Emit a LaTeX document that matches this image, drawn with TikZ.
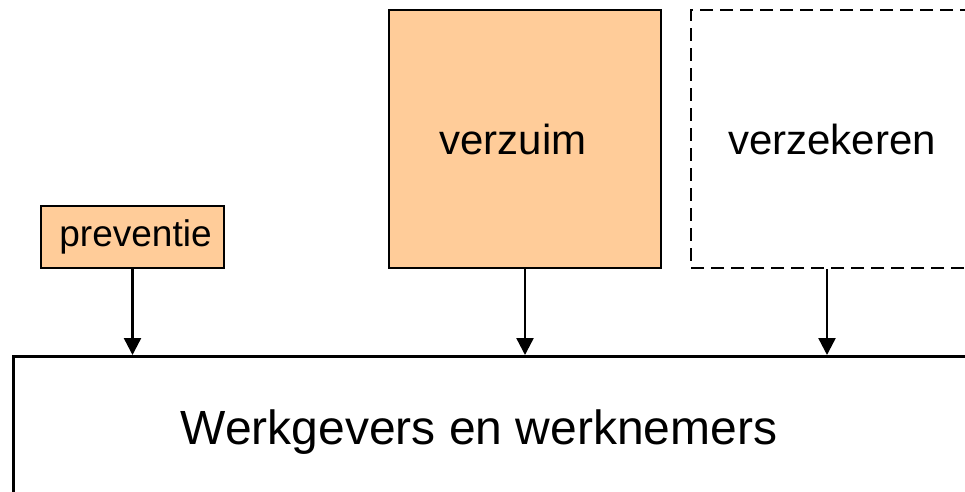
\documentclass[tikz,border=0pt]{standalone}
\usepackage{fontspec}
\setmainfont{Liberation Sans}
\usetikzlibrary{arrows.meta}
\definecolor{peach}{RGB}{255,204,153}
\tikzset{
  peachbox/.style={draw=black, fill=peach, line width=2.2pt, inner sep=0pt},
  dashbox/.style={draw=black, line width=2pt, dash pattern=on 13pt off 7pt, inner sep=0pt},
  plainbox/.style={draw=black, line width=2.6pt, inner sep=0pt},
  arr/.style={line width=2.4pt, -{Triangle[length=17pt,width=17pt]}}
}
\begin{document}
\begin{tikzpicture}[x=1pt,y=-1pt]
\useasboundingbox (0,0) rectangle (965,491);
\clip (0,0) rectangle (965,491);
\node[peachbox, minimum width=183pt, minimum height=62pt, font=\fontsize{37}{40}\selectfont] (prev) at (132.5,237) {\hspace*{6pt}preventie};
\node[peachbox, minimum width=272pt, minimum height=258pt, font=\fontsize{42}{46}\selectfont] (verzuim) at (525,139) {\hspace*{-24pt}verzuim};
\node[dashbox, minimum width=282pt, minimum height=258pt, font=\fontsize{42}{46}\selectfont] (verz) at (832,139) {verzekeren};
\node[plainbox, minimum width=1000pt, minimum height=200pt, anchor=north west] (wg) at (12,355) {};
\node[font=\fontsize{48}{52}\selectfont, inner sep=0pt] (wgtext) at (479,432) {Werkgevers en werknemers};
\draw[arr] (prev.south) -- (prev.south |- wg.north);
\draw[arr] (verzuim.south) -- (verzuim.south |- wg.north);
\draw[arr] ([xshift=-5pt]verz.south) -- ([xshift=-5pt]verz.south |- wg.north);
\end{tikzpicture}
\end{document}
